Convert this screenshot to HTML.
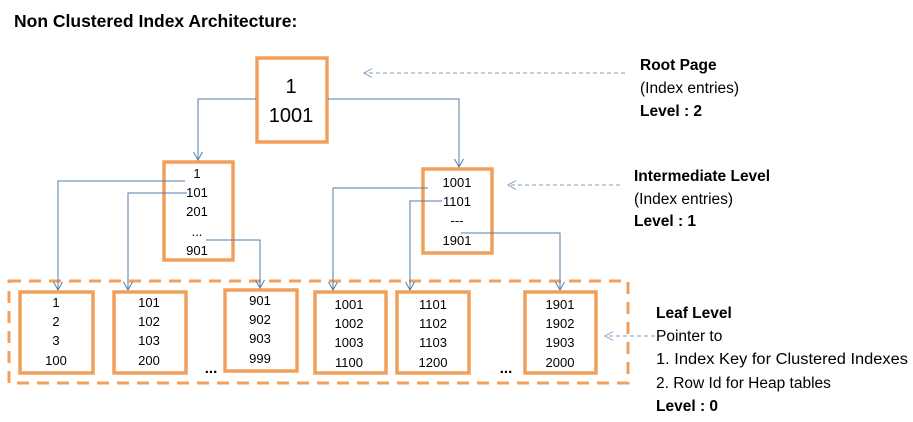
<!DOCTYPE html>
<html><head><meta charset="utf-8"><style>
html,body{margin:0;padding:0;background:#fff;}
svg{display:block;}
text{font-family:"Liberation Sans",sans-serif;fill:#000;}
</style></head><body>
<svg width="913" height="422" viewBox="0 0 913 422" xmlns="http://www.w3.org/2000/svg">
<defs>
<marker id="a" markerWidth="12" markerHeight="12" refX="9" refY="5" orient="auto" markerUnits="userSpaceOnUse" viewBox="0 0 12 10">
<path d="M1,0.5 L9,5 L1,9.5" fill="none" stroke="#4f7cac" stroke-width="1"/></marker>
<marker id="d" markerWidth="12" markerHeight="12" refX="9" refY="5" orient="auto" markerUnits="userSpaceOnUse" viewBox="0 0 12 10">
<path d="M1,0.5 L9,5 L1,9.5" fill="none" stroke="#7f9fc6" stroke-width="1"/></marker>
</defs>
<text x="14" y="27" font-size="17.5" font-weight="bold">Non Clustered Index Architecture:</text>

<g fill="none" stroke="#f0a05a" stroke-width="3.5">
<rect x="257" y="58" width="70" height="84"/>
<rect x="164" y="162" width="69" height="98"/>
<rect x="423" y="169" width="69" height="84"/>
<rect x="20" y="292" width="73" height="81"/>
<rect x="114" y="292" width="72" height="81"/>
<rect x="225" y="290" width="72" height="81"/>
<rect x="315" y="292" width="71" height="81"/>
<rect x="397" y="292" width="72" height="81"/>
<rect x="525" y="292" width="71" height="81"/>
</g>
<rect x="9" y="281" width="619" height="102" fill="none" stroke="#f0a05a" stroke-width="3" stroke-dasharray="12,8"/>

<g fill="none" stroke="#4f7cac" stroke-width="1">
<path d="M256,99 H198 V160" marker-end="url(#a)"/>
<path d="M328,99 H459 V167" marker-end="url(#a)"/>
<path d="M185,181 H58 V290" marker-end="url(#a)"/>
<path d="M187,193 H128 V290" marker-end="url(#a)"/>
<path d="M206,240 H260 V288" marker-end="url(#a)"/>
<path d="M428,188 H333 V290" marker-end="url(#a)"/>
<path d="M442,201 H410 V290" marker-end="url(#a)"/>
<path d="M461,233 H560 V290" marker-end="url(#a)"/>
</g>
<g fill="none" stroke="#7f9fc6" stroke-width="1" stroke-dasharray="4,3">
<path d="M625,73 H364" marker-end="url(#d)"/>
<path d="M620,185 H508" marker-end="url(#d)"/>
<path d="M655,336 H605" marker-end="url(#d)"/>
</g>

<g font-size="20" text-anchor="middle">
<text x="291" y="93">1</text><text x="291" y="122">1001</text>
</g>
<g font-size="13" text-anchor="middle">
<text x="197" y="178">1</text><text x="197" y="197">101</text><text x="197" y="216">201</text><text x="197" y="236">...</text><text x="197" y="255">901</text>
<text x="457" y="187">1001</text><text x="457" y="206">1101</text><text x="457" y="225">---</text><text x="457" y="245">1901</text>
<text x="56" y="307">1</text><text x="56" y="326">2</text><text x="56" y="345">3</text><text x="56" y="365">100</text>
<text x="149" y="307">101</text><text x="149" y="326">102</text><text x="149" y="345">103</text><text x="149" y="365">200</text>
<text x="260" y="305">901</text><text x="260" y="324">902</text><text x="260" y="343">903</text><text x="260" y="363">999</text>
<text x="349" y="309">1001</text><text x="349" y="328">1002</text><text x="349" y="347">1003</text><text x="349" y="367">1100</text>
<text x="433" y="309">1101</text><text x="433" y="328">1102</text><text x="433" y="347">1103</text><text x="433" y="367">1200</text>
<text x="560" y="309">1901</text><text x="560" y="328">1902</text><text x="560" y="347">1903</text><text x="560" y="367">2000</text>
<text x="211" y="373" font-weight="bold" font-size="15">...</text><text x="506" y="373" font-weight="bold" font-size="15">...</text>
</g>

<g font-size="15.5">
<text x="640" y="70" font-weight="bold">Root Page</text>
<text x="640" y="93">(Index entries)</text>
<text x="640" y="116" font-weight="bold">Level : 2</text>
<text x="634" y="181" font-weight="bold">Intermediate Level</text>
<text x="634" y="204">(Index entries)</text>
<text x="634" y="226" font-weight="bold">Level : 1</text>
<text x="656" y="318" font-weight="bold">Leaf Level</text>
<text x="656" y="341">Pointer to</text>
<text x="656" y="364" textLength="252" lengthAdjust="spacingAndGlyphs">1. Index Key for Clustered Indexes</text>
<text x="656" y="388">2. Row Id for Heap tables</text>
<text x="656" y="411" font-weight="bold">Level : 0</text>
</g>
</svg>
</body></html>
